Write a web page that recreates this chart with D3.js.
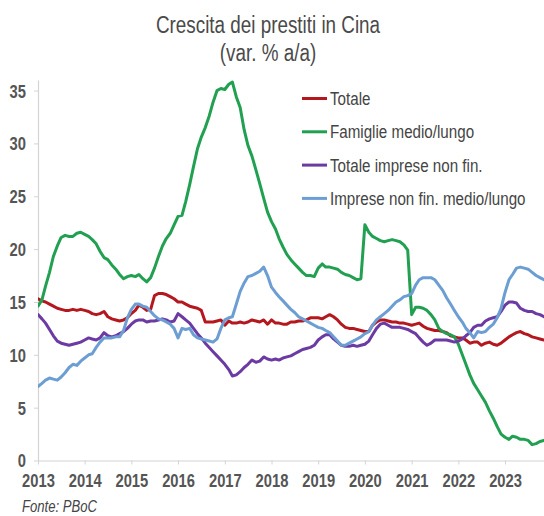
<!DOCTYPE html>
<html><head><meta charset="utf-8">
<script src="https://cdn.jsdelivr.net/npm/d3@7"></script>
<style>html,body{margin:0;padding:0;background:#fff;} svg{display:block;}</style>
</head><body><svg id="c" width="544" height="516"></svg>
<script>
const titleLines = ["Crescita dei prestiti in Cina", "(var. % a/a)"];
const sourceText = "Fonte: PBoC";
const startYear = 2013, startMonth = 0; // Jan 2013, monthly data

const totale = [15.3,15.1,15.0,14.8,14.6,14.4,14.3,14.2,14.2,14.3,14.2,14.3,
14.2,14.1,13.9,13.8,13.9,14.1,13.6,13.4,13.3,13.2,13.3,13.5,
13.9,14.2,14.7,14.5,14.2,14.3,15.6,15.8,15.8,15.7,15.5,15.3,
15.0,15.0,14.8,14.6,14.5,14.4,14.2,13.1,13.1,13.1,13.2,13.3,
12.8,13.2,13.0,13.0,13.1,13.0,13.1,13.3,13.2,13.1,13.3,12.9,
13.3,13.0,13.0,12.9,12.9,13.1,13.1,13.2,13.2,13.3,13.5,13.5,
13.5,13.4,13.6,13.8,13.6,13.3,12.9,12.6,12.5,12.5,12.4,12.3,
12.2,12.2,12.8,13.1,13.3,13.3,13.2,13.1,13.1,13.0,13.0,12.9,
12.8,12.9,13.0,12.7,12.5,12.4,12.3,12.3,12.2,12.1,11.8,11.7,
11.6,11.6,11.4,11.1,11.2,11.2,10.9,11.1,11.2,11.0,10.9,11.1,
11.4,11.7,11.9,12.1,12.2,12.0,11.9,11.7,11.6,11.5,11.4];

const famiglie = [14.6,15.2,16.5,17.8,19.3,20.3,21.1,21.3,21.2,21.2,21.5,21.6,
21.4,21.2,20.9,20.5,19.8,19.2,19.0,18.5,18.1,17.6,17.2,17.4,
17.5,17.4,17.6,17.2,16.9,17.3,18.2,19.3,20.3,21.0,21.5,22.3,
23.1,23.2,24.5,26.1,27.8,29.5,30.6,31.5,32.6,33.9,35.0,35.2,
35.1,35.6,35.8,34.4,33.4,31.3,29.8,28.8,27.5,26.2,24.8,23.5,
22.6,21.9,21.0,20.2,19.5,19.0,18.6,18.2,17.8,17.5,17.5,17.4,
18.2,18.6,18.3,18.3,18.2,18.1,17.8,17.6,17.5,17.3,17.1,17.2,
22.3,21.6,21.2,21.0,20.8,20.7,20.8,20.9,20.8,20.7,20.4,19.9,
13.8,14.5,14.5,14.4,14.2,13.8,13.3,12.5,12.2,12.0,11.9,11.7,
11.0,10.0,9.1,8.1,7.3,6.7,6.1,5.5,4.7,4.0,3.2,2.5,
2.2,2.0,2.3,2.2,2.0,2.0,1.9,1.5,1.6,1.8,1.9];

const totaleImprese = [13.8,13.4,13.0,12.4,11.8,11.3,11.1,11.0,10.9,11.0,11.1,11.2,
11.4,11.6,11.5,11.4,11.6,12.1,11.8,11.7,11.8,12.0,12.2,12.5,
12.9,13.2,13.3,13.3,13.1,13.2,13.2,13.3,13.4,13.3,13.1,13.2,
13.9,13.6,13.3,13.0,12.5,12.0,11.6,11.1,10.7,10.3,9.9,9.5,
9.1,8.6,8.0,8.1,8.4,8.8,9.1,9.5,9.3,9.4,9.8,9.6,
9.5,9.6,9.5,9.7,9.8,9.9,10.1,10.3,10.5,10.6,10.7,10.9,
11.4,11.7,11.9,11.9,11.5,11.2,10.9,10.8,10.8,10.9,10.8,10.9,
11.0,11.3,11.9,12.5,12.9,13.0,12.8,12.6,12.6,12.6,12.5,12.4,
12.2,12.0,11.6,11.2,10.9,11.1,11.4,11.4,11.4,11.4,11.3,11.2,
11.3,11.5,11.8,12.1,12.6,12.8,12.8,13.2,13.4,13.5,13.6,14.1,
14.7,15.0,15.0,14.9,14.4,14.2,14.1,14.1,13.9,13.8,13.6];

const impreseMedioLungo = [7.0,7.3,7.6,7.8,7.7,7.6,7.9,8.3,8.8,9.1,9.0,9.4,
9.7,10.0,10.1,10.7,11.2,11.6,11.6,11.6,11.7,11.7,12.3,13.5,
14.3,14.8,14.8,14.6,14.5,14.1,13.7,13.4,13.3,13.1,12.9,12.5,
11.6,12.5,12.4,12.5,11.9,11.6,11.5,11.4,11.3,11.2,11.5,12.5,
13.3,13.5,13.6,14.8,16.0,16.8,17.4,17.5,17.7,17.9,18.3,17.5,
16.4,15.9,15.5,15.1,14.7,14.3,14.0,13.6,13.4,13.2,13.0,12.8,
12.6,12.5,12.3,12.1,11.7,11.3,10.9,10.9,11.1,11.3,11.5,11.7,
12.0,12.2,12.8,13.3,13.6,13.9,14.2,14.6,15.0,15.2,15.5,15.6,
15.8,16.6,17.1,17.3,17.3,17.3,17.1,16.6,16.1,15.4,14.8,14.2,
13.6,13.1,12.5,12.1,11.6,12.2,12.1,12.2,12.6,12.9,13.5,14.4,
15.9,17.1,17.6,18.2,18.3,18.2,18.1,17.8,17.5,17.3,17.1];

const seriesNames = ["Totale", "Famiglie medio/lungo", "Totale imprese non fin.", "Imprese non fin. medio/lungo"];
const seriesColors = ["#b5171f", "#22a052", "#6b3aa3", "#6c9ed3"];
const yearTicks = [2013,2014,2015,2016,2017,2018,2019,2020,2021,2022,2023];
const yTicks = [0,5,10,15,20,25,30,35];

// Narrow look: Liberation Sans (Arial metrics) compressed horizontally like Arial Narrow
const FONT = "'Liberation Sans',Arial,sans-serif";
const SX = 0.82;
const svg = d3.select("#c");
const W = 544, H = 516;
svg.append("rect").attr("width", W).attr("height", H).attr("fill", "#fff");

function narrowText(g, px, py, str, size, opts = {}) {
  return g.append("text")
    .attr("transform", `translate(${px},${py}) scale(${SX},1)`)
    .attr("text-anchor", opts.anchor || "start")
    .attr("dy", opts.dy || null)
    .attr("font-family", FONT).attr("font-size", size)
    .attr("font-weight", opts.weight || "normal")
    .attr("font-style", opts.style || "normal")
    .attr("fill", opts.fill || "#444").text(str);
}

const x = d3.scaleTime()
  .domain([new Date(2013, 0, 1), new Date(2024, 0, 1)])
  .range([38, 551.7]);
const y = d3.scaleLinear().domain([0, 36]).range([460.5, 80]);

// Title
narrowText(svg, 268, 33, titleLines[0], 23, {anchor: "middle", fill: "#4a4a4a"});
narrowText(svg, 268, 61, titleLines[1], 23, {anchor: "middle", fill: "#4a4a4a"});

// Axes
const yAxis = svg.append("g").attr("transform", "translate(38,0)")
  .call(d3.axisLeft(y).tickValues(yTicks).tickSize(4).tickSizeOuter(0));
yAxis.select(".domain").attr("stroke", "#d4d4d4").attr("stroke-width", 1.2);
yAxis.selectAll(".tick line").attr("stroke", "#d4d4d4");
yAxis.selectAll(".tick text").attr("x", -12 / SX).attr("dy", "0.36em")
  .attr("transform", `scale(${SX},1)`)
  .attr("font-family", FONT).attr("font-size", 18).attr("font-weight", "bold").attr("fill", "#555");

const xAxis = svg.append("g").attr("transform", "translate(0,460.5)")
  .call(d3.axisBottom(x).tickValues(yearTicks.map(yr => new Date(yr, 0, 1)))
    .tickFormat(d3.timeFormat("%Y")).tickSize(4).tickSizeOuter(0));
xAxis.select(".domain").attr("stroke", "#d4d4d4").attr("stroke-width", 1.2);
xAxis.selectAll(".tick line").attr("stroke", "#d4d4d4");
xAxis.selectAll(".tick text").attr("y", 14).attr("dy", "0.71em")
  .attr("transform", `scale(${SX},1)`)
  .attr("font-family", FONT).attr("font-size", 18).attr("font-weight", "bold").attr("fill", "#555");

// Lines
const allSeries = [totale, famiglie, totaleImprese, impreseMedioLungo];
const line = d3.line()
  .x((d, i) => x(new Date(startYear, startMonth + i, 1)))
  .y(d => y(d));
svg.append("clipPath").attr("id", "clip").append("rect")
  .attr("x", 38).attr("y", 0).attr("width", W - 38).attr("height", 461);
const lines = svg.append("g").attr("clip-path", "url(#clip)");
allSeries.forEach((s, k) => {
  lines.append("path").datum(s).attr("d", line)
    .attr("fill", "none").attr("stroke", seriesColors[k])
    .attr("stroke-width", 3).attr("stroke-linejoin", "round").attr("stroke-linecap", "round");
});

// Legend
const legend = svg.append("g");
seriesNames.forEach((n, k) => {
  const ly = 98.5 + k * 33.3;
  legend.append("line").attr("x1", 302).attr("x2", 327).attr("y1", ly).attr("y2", ly)
    .attr("stroke", seriesColors[k]).attr("stroke-width", 3);
  narrowText(legend, 330, ly, n, 18.5, {dy: "0.36em", fill: "#444"});
});

// Source
narrowText(svg, 22, 512, sourceText, 16, {style: "italic", fill: "#444"});
</script></body></html>
